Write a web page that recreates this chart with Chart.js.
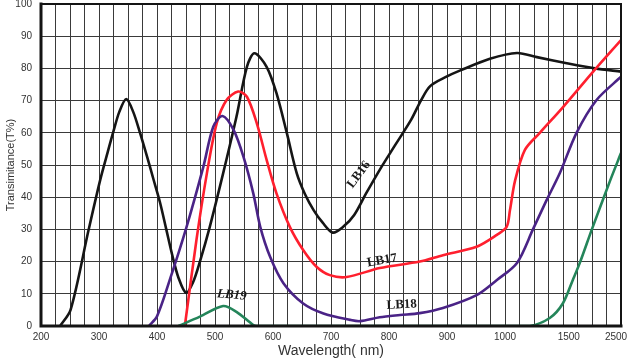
<!DOCTYPE html>
<html>
<head>
<meta charset="utf-8">
<script src="https://cdn.jsdelivr.net/npm/chart.js@4/dist/chart.umd.min.js"></script>
<style>
  html, body { margin: 0; padding: 0; background: #ffffff; }
  canvas { display: block; }
</style>
</head>
<body>
<canvas id="c" width="630" height="360"></canvas>
<script>
// ---------------- DATA ----------------
// Wavelength tick labels shown on the x axis (nm)
const X_TICK_LABELS = [200, 300, 400, 500, 600, 700, 800, 900, 1000, 1500, 2500];
// Y tick values (%)
const Y_MIN = 0, Y_MAX = 100, Y_STEP = 10;

// LB16 (black)
const LB16_NM = [233, 251, 282, 302, 315, 325, 335, 347, 359, 371, 383, 394, 405, 416, 427, 437, 450, 462, 474, 491, 514, 537, 555, 568, 589, 606, 624, 641, 655, 670, 686, 703, 721, 740, 760, 784, 810, 838, 855, 871, 900, 922, 974, 1094, 1250, 1484, 2000, 2500];
const LB16_T  = [0,   5,   29.8, 45.3, 54, 60.5, 66.5, 70.5, 66.5, 59.8, 52.5, 45.5, 38.5, 30, 21.5, 15, 10.3, 13.5, 20, 30.8, 47.4, 65, 80.5, 84.7, 80.5, 72.3, 59.8, 47.4, 41, 36, 32, 29, 30.8, 34.5, 41, 48.5, 56, 64, 70, 74.5, 77.5, 79.3, 83, 84.8, 83.5, 81.6, 80, 79];

// LB17 (red)
const LB17_NM = [448, 468, 486, 503, 520, 540, 555, 572, 589, 606, 629, 652, 675, 698, 727, 784, 853, 893, 951, 986, 1013, 1039, 1078, 1156, 1273, 1455, 1967, 2500];
const LB17_T  = [0,   26.7, 47.4, 63, 70.2, 72.8, 71.2, 63, 51.6, 41.2, 30.8, 23.6, 18.4, 15.8, 15.2, 18, 20,  22,  24.6, 28.3, 30.8, 36,  45,   54.7, 60,   68,   79,   88.8];

// LB18 (purple)
const LB18_NM = [386, 400, 422, 451, 480, 497, 513, 532, 549, 566, 578, 595, 618, 652, 687, 733, 750, 784, 819, 853, 893, 951, 986, 1094, 1219, 1325, 1430, 1648, 2032, 2500];
const LB18_T  = [0,   3,   14.3, 30.8, 49.5, 61.9, 65.2, 60.9, 52.6, 41.2, 30.8, 21.5, 13.3, 7, 3.9, 1.9, 1.5, 2.7, 3.4, 4,   5.6, 9.6, 14.3, 19.6, 30,  39,   47.5, 60,  70.2, 77.4];

// LB19 (green)
const LB19_NM = [437, 474, 514, 537, 566, 572, 800, 1000, 1195, 1351, 1453, 1577, 1711, 1942, 2288, 2500];
const LB19_T  = [0,   2.9, 6.2, 4.4, 0.3, 0,   0,   0,    0,    2.5,  7,    14.3, 19.6, 30,   45,   53.7];

// Curve label anchors (wavelength nm, transmittance %, rotation deg)
const CURVE_LABELS = [
  { text: 'LB16', nm: 748, t: 47, rot: -53, italic: false },
  { text: 'LB17', nm: 788, t: 20.3, rot: -10, italic: false },
  { text: 'LB18', nm: 822, t: 6.6,  rot: -3,  italic: false },
  { text: 'LB19', nm: 529, t: 9.6,  rot: 5,   italic: true  }
];

// Axis warp: wavelength anchors vs. grid-unit anchors (the original axis is
// linear 200–1000 nm and compressed beyond 1000 nm)
const WARP_NM    = [200, 1000, 1500, 2500];
const WARP_UNITS = [0,   32,   36.4, 40];
const GRID_UNITS = 40;

// ---------------- SCALE ----------------
function warp(v) {
  for (let i = 0; i < WARP_NM.length - 1; i++) {
    if (v <= WARP_NM[i + 1] || i === WARP_NM.length - 2) {
      const f = (v - WARP_NM[i]) / (WARP_NM[i + 1] - WARP_NM[i]);
      return WARP_UNITS[i] + f * (WARP_UNITS[i + 1] - WARP_UNITS[i]);
    }
  }
  return 0;
}
function unwarp(u) {
  for (let i = 0; i < WARP_UNITS.length - 1; i++) {
    if (u <= WARP_UNITS[i + 1] || i === WARP_UNITS.length - 2) {
      const f = (u - WARP_UNITS[i]) / (WARP_UNITS[i + 1] - WARP_UNITS[i]);
      return WARP_NM[i] + f * (WARP_NM[i + 1] - WARP_NM[i]);
    }
  }
  return WARP_NM[0];
}

class WarpScale extends Chart.LinearScale {
  buildTicks() {
    const ticks = [];
    for (let u = 0; u <= GRID_UNITS; u++) {
      ticks.push({ value: unwarp(u), isGrid: true });
    }
    X_TICK_LABELS.forEach(v => {
      const found = ticks.find(t => Math.abs(t.value - v) < 0.01);
      if (!found) ticks.push({ value: v, isGrid: false });
    });
    ticks.sort((a, b) => a.value - b.value);
    return ticks;
  }
  getPixelForValue(value) {
    if (value === null || value === undefined || isNaN(value)) return NaN;
    return this.getPixelForDecimal(warp(value) / GRID_UNITS);
  }
  getValueForPixel(pixel) {
    return unwarp(this.getDecimalForPixel(pixel) * GRID_UNITS);
  }
}
WarpScale.id = 'warp';
WarpScale.defaults = Chart.LinearScale.defaults;
Chart.register(WarpScale);

function pts(xs, ys) { return xs.map((x, i) => ({ x: x, y: ys[i] })); }

function xLabel(value) {
  const v = X_TICK_LABELS.find(l => Math.abs(l - value) < 0.01);
  if (v === undefined) return '';
  if (v === 2500) return '2500\u2002\u2002';
  return String(v);
}

// ---------------- PLUGINS ----------------
const framePlugin = {
  id: 'frame',
  afterDatasetsDraw(chart) {
    const { ctx, chartArea: a } = chart;
    ctx.save();
    ctx.strokeStyle = '#141414';
    ctx.lineCap = 'square';
    ctx.lineWidth = 2;
    ctx.beginPath();
    ctx.moveTo(a.left, a.top); ctx.lineTo(a.right, a.top); ctx.lineTo(a.right, a.bottom);
    ctx.stroke();
    ctx.lineWidth = 3;
    ctx.beginPath();
    ctx.moveTo(a.left, a.top); ctx.lineTo(a.left, a.bottom); ctx.lineTo(a.right, a.bottom);
    ctx.stroke();
    ctx.restore();
  }
};

const curveLabelPlugin = {
  id: 'curveLabels',
  afterDatasetsDraw(chart) {
    const { ctx } = chart;
    const xs = chart.scales.x, ys = chart.scales.y;
    ctx.save();
    ctx.fillStyle = '#1a1a1a';
    ctx.textAlign = 'center';
    ctx.textBaseline = 'middle';
    CURVE_LABELS.forEach(l => {
      const px = xs.getPixelForValue(l.nm);
      const py = ys.getPixelForValue(l.t);
      ctx.save();
      ctx.translate(px, py);
      ctx.rotate(l.rot * Math.PI / 180);
      ctx.font = (l.italic ? 'italic ' : '') + 'bold 13px "Liberation Serif", "DejaVu Serif", serif';
      ctx.fillText(l.text, 0, 0);
      ctx.restore();
    });
    ctx.restore();
  }
};

// ---------------- CHART ----------------
const FONT = '"Liberation Sans", Arial, sans-serif';
const lineDs = (label, xs, ys, color) => ({
  label: label,
  data: pts(xs, ys),
  borderColor: color,
  backgroundColor: color,
  borderWidth: 2.6,
  pointRadius: 0,
  fill: false,
  tension: 0.3
});

new Chart(document.getElementById('c'), {
  type: 'line',
  data: {
    datasets: [
      lineDs('LB19', LB19_NM, LB19_T, '#24855a'),
      lineDs('LB18', LB18_NM, LB18_T, '#4a2386'),
      lineDs('LB17', LB17_NM, LB17_T, '#ff1f2e'),
      lineDs('LB16', LB16_NM, LB16_T, '#151515')
    ]
  },
  options: {
    responsive: false,
    animation: false,
    parsing: true,
    layout: { padding: { top: 4, right: 9, left: 0, bottom: 0 } },
    plugins: { legend: { display: false }, tooltip: { enabled: false } },
    scales: {
      x: {
        type: 'warp',
        min: 200,
        max: 2500,
        afterFit(s) { s.height = 34; s.paddingLeft = 0; s.paddingRight = 0; },
        border: { display: false },
        grid: {
          drawTicks: false,
          lineWidth: 1,
          color: (c) => (c.tick && c.tick.isGrid) ? '#3a3a3a' : 'rgba(0,0,0,0)'
        },
        ticks: {
          autoSkip: false,
          maxRotation: 0,
          minRotation: 0,
          padding: 5,
          color: '#333333',
          font: { family: FONT, size: 10 },
          callback: (v) => xLabel(v)
        },
        title: {
          display: true,
          text: 'Wavelength( nm)',
          color: '#333333',
          font: { family: FONT, size: 14 },
          padding: { top: 0, bottom: 0 }
        }
      },
      y: {
        min: Y_MIN,
        max: Y_MAX,
        afterFit(s) { s.width = 41; s.paddingTop = 0; s.paddingBottom = 0; },
        border: { display: false },
        grid: { drawTicks: false, lineWidth: 1, color: '#3a3a3a' },
        ticks: {
          stepSize: Y_STEP,
          padding: 9,
          color: '#333333',
          font: { family: FONT, size: 10 }
        },
        title: {
          display: true,
          text: 'Transimitance(T%)',
          color: '#333333',
          font: { family: FONT, size: 11 },
          padding: { top: 4, bottom: 0 }
        }
      }
    }
  },
  plugins: [framePlugin, curveLabelPlugin]
});
</script>
</body>
</html>
